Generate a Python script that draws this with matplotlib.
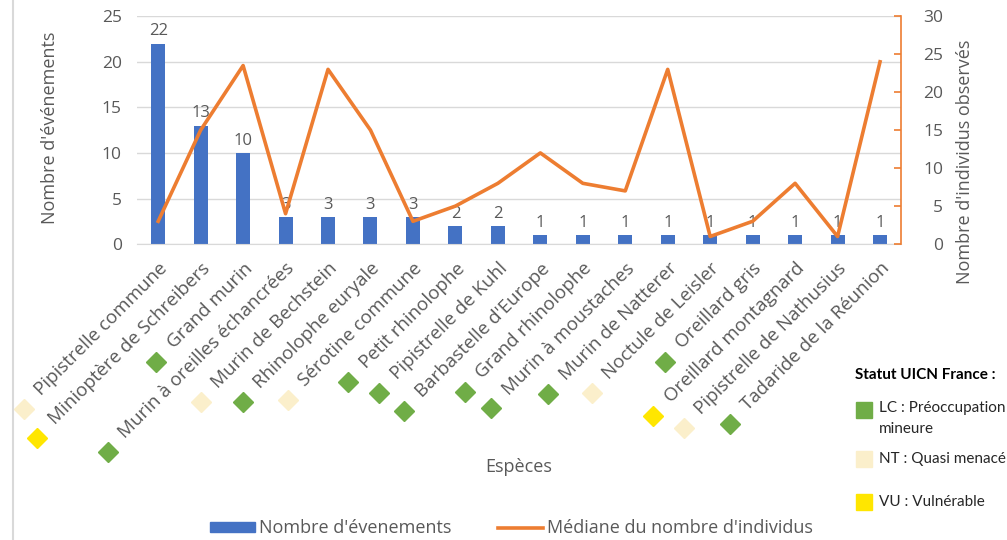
import matplotlib
matplotlib.use("Agg")
import matplotlib.pyplot as plt
from matplotlib.lines import Line2D
from matplotlib.patches import Patch
import numpy as np

plt.rcParams["font.family"] = ["Open Sans", "DejaVu Sans"]

SPECIES = [
    "Pipistrelle commune", "Minioptère de Schreibers", "Grand murin",
    "Murin à oreilles échancrées", "Murin de Bechstein", "Rhinolophe euryale",
    "Sérotine commune", "Petit rhinolophe", "Pipistrelle de Kuhl",
    "Barbastelle d'Europe", "Grand rhinolophe", "Murin à moustaches",
    "Murin de Natterer", "Noctule de Leisler", "Oreillard gris",
    "Oreillard montagnard", "Pipistrelle de Nathusius", "Tadaride de la Réunion",
]
EVENTS = [22, 13, 10, 3, 3, 3, 3, 2, 2, 1, 1, 1, 1, 1, 1, 1, 1, 1]
MEDIAN_INDIV = [3, 15, 23.5, 4, 23, 15, 3, 5, 8, 12, 8, 7, 23, 1, 3, 8, 1, 24]
UICN = ["NT", "VU", "LC", "LC", "NT", "LC", "NT", "LC", "LC",
        "LC", "LC", "LC", "LC", "NT", "LC", "VU", "NT", "LC"]

UICN_COLORS = {"LC": "#70AD47", "NT": "#FBEFCB", "VU": "#FFE600"}
UICN_LABELS = [("LC", "LC : Préoccupation\nmineure"),
               ("NT", "NT : Quasi menacé"),
               ("VU", "VU : Vulnérable")]

BLUE = "#4472C4"
ORANGE = "#ED7D31"
GREY = "#595959"

fig = plt.figure(figsize=(10.07, 5.4), dpi=100)
ax = fig.add_axes([0.136, 0.548, 0.759, 0.422])
ax2 = ax.twinx()

x = np.arange(len(SPECIES))
ax.bar(x, EVENTS, width=0.33, color=BLUE, zorder=2)
for xi, v in zip(x, EVENTS):
    ax.text(xi, v + 0.45, str(v), ha="center", va="bottom", fontsize=12, color=GREY)

ax.set_xlim(-0.5, len(SPECIES) - 0.5)
ax.set_ylim(0, 25)
ax.set_yticks(range(0, 26, 5))
ax.yaxis.grid(True, color="#D9D9D9", lw=1)
ax.set_axisbelow(True)
for s in ("left", "top", "right"):
    ax.spines[s].set_visible(False)
ax.spines["bottom"].set_color("#D9D9D9")
ax.tick_params(axis="y", length=0, pad=11, labelsize=12.5, labelcolor=GREY)
ax.tick_params(axis="x", length=0, pad=11)
ax.set_xticks(x)
ax.set_xticklabels(SPECIES, rotation=45, ha="right", rotation_mode="anchor",
                   fontsize=13.5, color=GREY)

ax2.plot(x, MEDIAN_INDIV, color=ORANGE, lw=2.6, zorder=3)
ax2.set_ylim(0, 30)
ax2.set_yticks(range(0, 31, 5))
for s in ("left", "top", "bottom"):
    ax2.spines[s].set_visible(False)
ax2.spines["right"].set_color(ORANGE)
ax2.spines["right"].set_linewidth(1.2)
ax2.tick_params(axis="y", direction="in", length=5, color=ORANGE, width=1.2,
                labelsize=12.5, labelcolor=GREY, pad=30)
for lab in ax2.get_yticklabels():
    lab.set_horizontalalignment("right")

fig.text(0.05, 0.763, "Nombre d'événements", rotation=90, ha="center", va="center",
         fontsize=13, color=GREY)
fig.text(0.958, 0.70, "Nombre d'individus observés", rotation=90, ha="center",
         va="center", fontsize=13, color=GREY)
fig.text(0.515, 0.135, "Espèces", ha="center", va="center", fontsize=13, color=GREY)

# left chart border
fig.add_artist(Line2D([0.013, 0.013], [0, 1], color="#D9D9D9", lw=1.5,
                      transform=fig.transFigure))

handles = [Patch(color=BLUE), Line2D([], [], color=ORANGE, lw=2.6)]
fig.legend(handles, ["Nombre d'évenements", "Médiane du nombre d'individus"],
           loc="lower center", bbox_to_anchor=(0.508, -0.025), ncol=2, frameon=False,
           fontsize=13, labelcolor=GREY, handlelength=2.5, handleheight=0.45,
           handletextpad=0.2, columnspacing=2.6)

# UICN status diamonds just before the start of each tick label
fig.canvas.draw()
renderer = fig.canvas.get_renderer()
inv = fig.transFigure.inverted()
for lab, status in zip(ax.get_xticklabels(), UICN):
    bb = lab.get_window_extent(renderer)
    h = 0.707 * 19
    px, py = bb.x0 + h - 21, bb.y0 - 10
    fx, fy = inv.transform((px, py))
    fig.add_artist(Line2D([fx], [fy], marker="D", markersize=10, ls="none",
                          color=UICN_COLORS[status], transform=fig.transFigure))

fig.text(0.849, 0.305, "Statut UICN France :", fontsize=11, fontweight="bold",
         color="black", va="center", family=["Lato", "DejaVu Sans"])
ypos = [0.241, 0.150, 0.070]
for (code, text), yy in zip(UICN_LABELS, ypos):
    fig.add_artist(Line2D([0.858], [yy], marker="s", markersize=11, ls="none",
                          color=UICN_COLORS[code], transform=fig.transFigure))
    fig.text(0.873, yy - (0.016 if "\n" in text else 0), text, fontsize=11,
             color="#262626", va="center", linespacing=1.55,
             family=["Lato", "DejaVu Sans"])

fig.savefig("out.png", dpi=100)
